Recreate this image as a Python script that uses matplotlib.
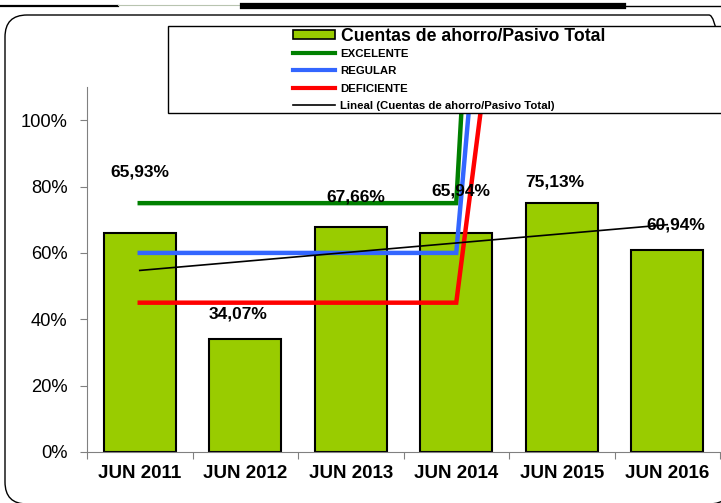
import numpy as np
import matplotlib
matplotlib.use("Agg")
import matplotlib.pyplot as plt
from matplotlib.patches import Patch, Rectangle, FancyBboxPatch
from matplotlib.lines import Line2D
from matplotlib.transforms import IdentityTransform

plt.rcParams['font.family'] = ['Liberation Sans', 'DejaVu Sans']

# datos
periodos = ['JUN 2011', 'JUN 2012', 'JUN 2013', 'JUN 2014', 'JUN 2015', 'JUN 2016']
cuentas = [65.93, 34.07, 67.66, 65.94, 75.13, 60.94]
etiquetas = ['65,93%', '34,07%', '67,66%', '65,94%', '75,13%', '60,94%']
excelente = [75, 75, 75, 75, 639]
regular = [60, 60, 60, 60, 420]
deficiente = [45, 45, 45, 45, 294]

# posicion de las etiquetas (desplazamiento en x, altura en %)
etiq_dx = [0.0, -0.066, 0.05, 0.04, -0.066, 0.085]
etiq_y = [84.4, 41.7, 76.8, 78.6, 81.3, 68.4]

W, H = 721, 503
fig = plt.figure(figsize=(W / 100, H / 100), dpi=100)


def fx(px):
    return px / W


def fy(py):
    return 1 - py / H


# marco redondeado exterior (en pixeles)
marco = FancyBboxPatch((5, H - 504), 731 - 5, 504 - 15,
                       boxstyle="round,pad=0,rounding_size=22",
                       transform=IdentityTransform(), facecolor='none',
                       edgecolor='black', linewidth=1.0)
fig.add_artist(marco)

# lineas decorativas superiores
fig.add_artist(Line2D([0, fx(118)], [fy(5.5), fy(5.5)], color='black', lw=1.6, transform=fig.transFigure))
fig.add_artist(Line2D([fx(118), fx(243)], [fy(5), fy(5)], color='#b8c4b0', lw=0.8, transform=fig.transFigure))
fig.add_artist(Line2D([fx(243), fx(623)], [fy(6), fy(6)], color='black', lw=4.5, transform=fig.transFigure))
fig.add_artist(Line2D([fx(623), 1], [fy(6), fy(6)], color='black', lw=1.0, transform=fig.transFigure))

ax = fig.add_axes([fx(87), fy(452), fx(720) - fx(87), (452 - 87) / H])
x = np.arange(len(periodos))

ax.bar(x, cuentas, width=0.68, color='#99CC00', edgecolor='black', linewidth=1.5, zorder=2)

xl = np.arange(len(excelente))
ax.plot(xl, excelente, color='#008000', lw=3.2, zorder=3, solid_joinstyle='miter')
ax.plot(xl, regular, color='#3366FF', lw=3.2, zorder=3, solid_joinstyle='miter')
ax.plot(xl, deficiente, color='#FF0000', lw=3.2, zorder=3, solid_joinstyle='miter')

m, b = np.polyfit(x, cuentas, 1)
ax.plot([x[0], x[-1]], [b, b + m * x[-1]], color='black', lw=1.2, zorder=4)

for i, t in enumerate(etiquetas):
    ax.text(x[i] + etiq_dx[i], etiq_y[i], t, ha='center', va='center',
            fontsize=12.5, fontweight='bold', zorder=5)

ax.set_xlim(-0.5, 5.5)
ax.set_ylim(0, 110)
ax.set_yticks([0, 20, 40, 60, 80, 100])
ax.set_yticklabels(['0%', '20%', '40%', '60%', '80%', '100%'], fontsize=13.2)
ax.set_xticks(np.arange(-0.5, 6, 1))
ax.set_xticklabels([])
ax.set_xticks(x, minor=True)
ax.set_xticklabels(periodos, minor=True, fontsize=13.5, fontweight='bold')
ax.tick_params(axis='x', which='major', length=5, color='#808080', direction='out')
ax.tick_params(axis='x', which='minor', length=0, pad=9)
ax.tick_params(axis='y', length=5, color='#808080', pad=9)
for s in ['top', 'right']:
    ax.spines[s].set_visible(False)
for s in ['left', 'bottom']:
    ax.spines[s].set_color('#808080')
ax.patch.set_alpha(0)

# leyenda
caja = Rectangle((fx(168), fy(113)), fx(740) - fx(168), (113 - 26) / H,
                 transform=fig.transFigure, facecolor='white', edgecolor='black',
                 linewidth=1.0, zorder=10)
fig.add_artist(caja)

h_barra = [Patch(facecolor='#99CC00', edgecolor='black', linewidth=1.2)]
h_lineas = [Line2D([], [], color='#008000', lw=3),
            Line2D([], [], color='#3366FF', lw=3),
            Line2D([], [], color='#FF0000', lw=3),
            Line2D([], [], color='black', lw=1.2)]
n_lineas = ['EXCELENTE', 'REGULAR', 'DEFICIENTE', 'Lineal (Cuentas de ahorro/Pasivo Total)']

leg1 = fig.legend(h_barra, ['Cuentas de ahorro/Pasivo Total'], loc='center left',
                  bbox_to_anchor=(fx(293), fy(36.5)), frameon=False, borderpad=0,
                  borderaxespad=0, handlelength=2.4, handleheight=0.45, handletextpad=0.3,
                  prop={'size': 12.7, 'weight': 'bold'})
leg1.set_zorder(11)
leg2 = fig.legend(h_lineas, n_lineas, loc='center left',
                  bbox_to_anchor=(fx(293), fy(80)), frameon=False, borderpad=0,
                  borderaxespad=0, handlelength=3.7, handletextpad=0.45, labelspacing=0.62,
                  prop={'size': 8.2, 'weight': 'bold'})
leg2.set_zorder(11)

fig.savefig('out.png', dpi=100)
